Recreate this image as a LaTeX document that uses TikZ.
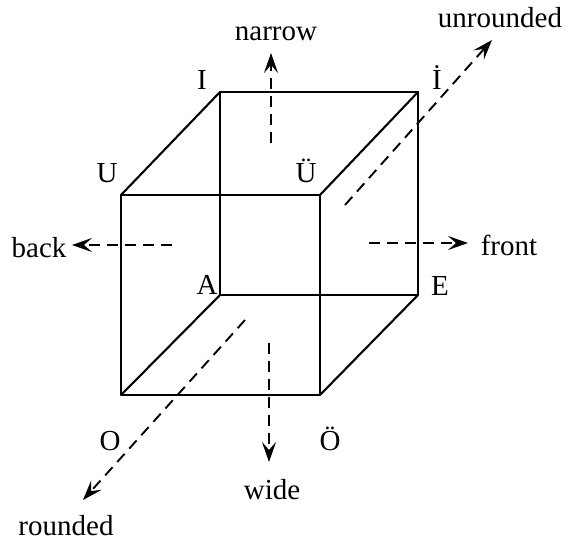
\documentclass[tikz,border=0pt]{standalone}
\usepackage{fontspec}
\setmainfont{Liberation Serif}
\usetikzlibrary{arrows.meta}
\begin{document}
\begin{tikzpicture}[x=1pt,y=-1pt,
  edge/.style={line width=2.1pt, line cap=round, line join=round},
  axis/.style={line width=1.9pt, dash pattern=on 11pt off 7pt, -{Stealth[length=20pt,width=14pt,inset=8pt]}},
  lbl/.style={font=\fontsize{29}{33}\selectfont, inner sep=0pt}]
\useasboundingbox (0,0) rectangle (572,545);
% cube corners
\coordinate (bTL) at (220,92);
\coordinate (bTR) at (418,92);
\coordinate (bBR) at (418,295);
\coordinate (bBL) at (220,295);
\coordinate (fTL) at (121,195);
\coordinate (fTR) at (320,195);
\coordinate (fBR) at (320,395);
\coordinate (fBL) at (121,395);
% edges
\draw[edge] (bTL) -- (bTR) -- (bBR) -- (bBL) -- cycle;
\draw[edge] (fTL) -- (fTR) -- (fBR) -- (fBL) -- cycle;
\draw[edge] (fTL) -- (bTL);
\draw[edge] (fTR) -- (bTR);
\draw[edge] (fBR) -- (bBR);
\draw[edge] (fBL) -- (bBL);
% vertex labels (anchored at baseline)
\tikzset{vl/.style={lbl, anchor=base}}
\node[vl] (lI) at (202,90) {I};
\node[vl] (lIdot) at (437,90) {İ};
\node[vl] (lU) at (107,183) {U};
\node[vl] (lUe) at (306,183) {Ü};
\node[vl] (lA) at (207,294) {A};
\node[vl] (lE) at (440,295) {E};
\node[vl] (lO) at (110,450) {O};
\node[vl] (lOe) at (330,450) {Ö};
% axis labels
\node[lbl] (narrow) at (276,34) {narrow};
\node[lbl] (unrounded) at (500,18) {unrounded};
\node[lbl] (back) at (39,248) {back};
\node[lbl] (front) at (509,245) {front};
\node[lbl] (wide) at (272,490) {wide};
\node[lbl] (rounded) at (66,526) {rounded};
% axis arrows
\coordinate (nS) at (271,143); \coordinate (nE) at (271,53);
\coordinate (wS) at (269,343); \coordinate (wE) at (269,462);
\coordinate (bS) at (172,245); \coordinate (bE) at (72,245);
\coordinate (frS) at (369,243); \coordinate (frE) at (468,243);
\coordinate (uS) at (345,205); \coordinate (uE) at (492,40);
\coordinate (rS) at (245,320); \coordinate (rE) at (83,500);
\draw[axis] (nS) -- (nE);
\draw[axis] (wS) -- (wE);
\draw[axis] (bS) -- (bE);
\draw[axis] (frS) -- (frE);
\draw[axis] (uS) -- (uE);
\draw[axis] (rS) -- (rE);
\end{tikzpicture}
\end{document}
